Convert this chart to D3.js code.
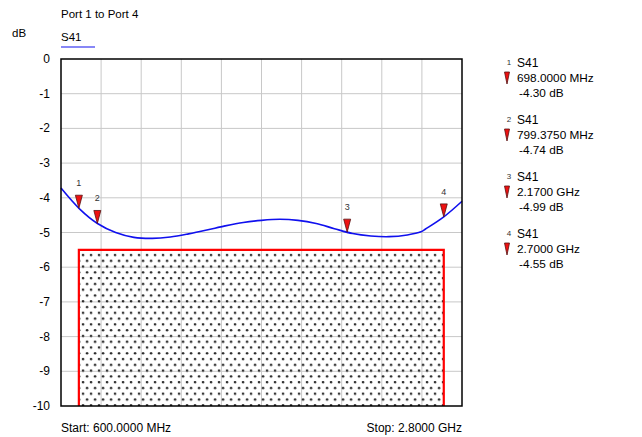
<!DOCTYPE html>
<html>
<head>
<meta charset="utf-8">
<script src="https://cdn.jsdelivr.net/npm/d3@7"></script>
<style>
  html, body { margin: 0; padding: 0; background: #fff; }
  svg { display: block; font-family: "Liberation Sans", Arial, sans-serif; }
</style>
</head>
<body>
<svg id="chart" width="642" height="437"></svg>
<script>
// ---- data ----
const freqsMHz = [600, 700, 800, 900, 1000, 1100, 1200, 1300, 1400, 1500, 1600, 1700, 1800, 1900, 2000, 2100, 2200, 2300, 2400, 2500, 2575, 2600, 2700, 2800];
const s41dB    = [-3.72, -4.31, -4.74, -5.00, -5.14, -5.17, -5.13, -5.04, -4.93, -4.81, -4.71, -4.65, -4.62, -4.65, -4.74, -4.89, -5.03, -5.10, -5.12, -5.07, -4.98, -4.90, -4.55, -4.10];

const yTicks = [0, -1, -2, -3, -4, -5, -6, -7, -8, -9, -10];
const xGridMHz = [600, 820, 1040, 1260, 1480, 1700, 1920, 2140, 2360, 2580, 2800];

const limitStartMHz = 698;
const limitStopMHz = 2700;
const limitValue = -5.5;

const markerIds = ["1", "2", "3", "4"];
const markerFreqsMHz = [698, 799.375, 2170, 2700];
const markerValues = [-4.30, -4.74, -4.99, -4.55];
const markerFreqLabels = ["698.0000 MHz", "799.3750 MHz", "2.1700 GHz", "2.7000 GHz"];
const markerValueLabels = ["-4.30 dB", "-4.74 dB", "-4.99 dB", "-4.55 dB"];

const titleText = "Port 1 to Port 4";
const traceName = "S41";
const yUnit = "dB";
const startLabel = "Start: 600.0000 MHz";
const stopLabel = "Stop: 2.8000 GHz";

// ---- layout ----
const svg = d3.select("#chart");
const pLeft = 61, pRight = 462, pTop = 59, pBottom = 406;

const x = d3.scaleLinear().domain([600, 2800]).range([pLeft, pRight]);
const y = d3.scaleLinear().domain([0, -10]).range([pTop, pBottom]);

// pattern for limit fill
const defs = svg.append("defs");
const pat = defs.append("pattern")
  .attr("id", "dots")
  .attr("patternUnits", "userSpaceOnUse")
  .attr("x", x(limitStartMHz) + 3)
  .attr("y", y(limitValue) + 4)
  .attr("width", 8)
  .attr("height", 11.56);
pat.append("circle").attr("cx", 1.2).attr("cy", 1.2).attr("r", 1.25).attr("fill", "#222");
pat.append("circle").attr("cx", 5.2).attr("cy", 6.98).attr("r", 1.25).attr("fill", "#222");

// grid
svg.append("g").selectAll("line").data(yTicks.slice(1, -1)).join("line")
  .attr("x1", pLeft).attr("x2", pRight)
  .attr("y1", d => y(d)).attr("y2", d => y(d))
  .attr("stroke", "#c8c8c8").attr("stroke-width", 1);
svg.append("g").selectAll("line").data(xGridMHz.slice(1, -1)).join("line")
  .attr("y1", pTop).attr("y2", pBottom)
  .attr("x1", d => x(d)).attr("x2", d => x(d))
  .attr("stroke", "#c8c8c8").attr("stroke-width", 1);

// limit region
svg.append("rect")
  .attr("x", x(limitStartMHz)).attr("y", y(limitValue))
  .attr("width", x(limitStopMHz) - x(limitStartMHz))
  .attr("height", y(-10) - y(limitValue))
  .attr("fill", "url(#dots)");
svg.append("path")
  .attr("d", d3.line()([[x(limitStartMHz), y(-10)], [x(limitStartMHz), y(limitValue)], [x(limitStopMHz), y(limitValue)], [x(limitStopMHz), y(-10)]]))
  .attr("fill", "none").attr("stroke", "#ff0000").attr("stroke-width", 2.2);

// trace
svg.append("path")
  .datum(freqsMHz.map((f, i) => [f, s41dB[i]]))
  .attr("d", d3.line().x(d => x(d[0])).y(d => y(d[1])).curve(d3.curveCatmullRom.alpha(0.5)))
  .attr("fill", "none").attr("stroke", "#1010ee").attr("stroke-width", 1.6);

// frame
svg.append("rect").attr("x", pLeft).attr("y", pTop)
  .attr("width", pRight - pLeft).attr("height", pBottom - pTop)
  .attr("fill", "none").attr("stroke", "#000").attr("stroke-width", 1.5);

// y tick labels
svg.append("g").selectAll("text").data(yTicks).join("text")
  .attr("x", 50).attr("y", d => y(d) + 4)
  .attr("text-anchor", "end").attr("font-size", 12).attr("fill", "#000")
  .text(d => d);

// markers in plot
const tri = (cx, cy, w, h) => d3.line()([[cx - w / 2, cy - h], [cx + w / 2, cy - h], [cx, cy]]) + "Z";
const mg = svg.append("g");
markerIds.forEach((id, i) => {
  const mx = x(markerFreqsMHz[i]), my = y(markerValues[i]);
  mg.append("path").attr("d", tri(mx, my, 7, 13))
    .attr("fill", "#ee1111").attr("stroke", "#551111").attr("stroke-width", 0.8);
  mg.append("text").attr("x", mx).attr("y", my - 22)
    .attr("text-anchor", "middle").attr("font-size", 9).attr("fill", "#333").text(id);
});

// titles
svg.append("text").attr("x", pLeft).attr("y", 18).attr("font-size", 11.5).text(titleText);
svg.append("text").attr("x", 12).attr("y", 37).attr("font-size", 11.5).text(yUnit);
svg.append("text").attr("x", pLeft).attr("y", 41).attr("font-size", 11.5).text(traceName);
svg.append("line").attr("x1", pLeft).attr("x2", 95).attr("y1", 47).attr("y2", 47)
  .attr("stroke", "#1010ee").attr("stroke-width", 1.2);

// start / stop
svg.append("text").attr("x", pLeft).attr("y", 432).attr("font-size", 12).text(startLabel);
svg.append("text").attr("x", pRight).attr("y", 432).attr("font-size", 12).attr("text-anchor", "end").text(stopLabel);

// legend
const lg = svg.append("g");
markerIds.forEach((id, i) => {
  const by = 67 + i * 57;
  lg.append("text").attr("x", 509).attr("y", by - 2).attr("font-size", 8).attr("fill", "#333").attr("text-anchor", "middle").text(id);
  lg.append("text").attr("x", 517).attr("y", by).attr("font-size", 12).text(traceName);
  lg.append("path").attr("d", tri(507, by + 17, 5, 12))
    .attr("fill", "#ee1111").attr("stroke", "#551111").attr("stroke-width", 0.8);
  lg.append("text").attr("x", 517).attr("y", by + 15).attr("font-size", 11.8).text(markerFreqLabels[i]);
  lg.append("text").attr("x", 519).attr("y", by + 30).attr("font-size", 11.8).text(markerValueLabels[i]);
});
</script>
</body>
</html>
